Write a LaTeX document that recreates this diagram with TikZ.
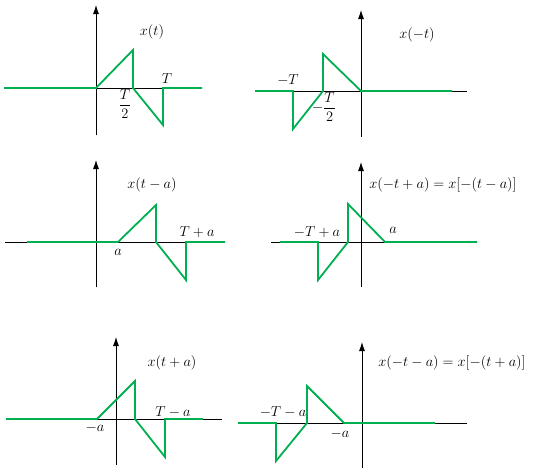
\documentclass[tikz,border=0pt]{standalone}
\usepackage{amsmath}
\usetikzlibrary{arrows.meta}
\definecolor{siggreen}{RGB}{0,176,80}

\begin{document}
\begin{tikzpicture}[x=1pt, y=-1pt,
axis/.style={line width=0.8pt},
yaxis/.style={line width=0.8pt, -{Latex[length=9pt,width=6pt]}},
sig/.style={draw=siggreen, line width=1.8pt},
lbl/.style={font=\fontsize{14}{16}\selectfont, inner sep=0pt}
]
\useasboundingbox (0,0) rectangle (537,472);

% x(t)
\draw[axis] (4,88) -- (202,88);
\draw[yaxis] (96,135) -- (96,5);
\draw[sig] (4,88) -- (96,88) -- (133,50) -- (133,88) -- (163,125) -- (163,88) -- (202,88);
\node[lbl] (f1) at (152,32) {$x(t)$};
\node[lbl] (f1T) at (167,79) {$T$};
\node[lbl] (f1h) at (125,104) {$\dfrac{T}{2}$};

% x(-t)
\draw[axis] (255,91) -- (467,91);
\draw[yaxis] (361,137) -- (361,10);
\draw[sig] (255,91) -- (293,91) -- (293,129) -- (323,91) -- (323,54) -- (361,91) -- (452,91);
\node[lbl] (f2) at (417,35) {$x(-t)$};
\node[lbl] (f2T) at (288,80) {$-T$};
\node[lbl] (f2h) at (324,107) {$-\dfrac{T}{2}$};

% x(t-a)
\draw[axis] (5,242) -- (225,242);
\draw[yaxis] (96,287) -- (96,160);
\draw[sig] (27,242) -- (118,242) -- (156,205) -- (156,242) -- (186,280) -- (186,242) -- (225,242);
\node[lbl] (f3) at (152,185) {$x(t-a)$};
\node[lbl] (f3T) at (197,232) {$T+a$};
\node[lbl] (f3a) at (118,252) {$a$};

% x(-t+a)
\draw[axis] (271,242) -- (477,242);
\draw[yaxis] (361,287) -- (361,162);
\draw[sig] (280,242) -- (318,242) -- (318,280) -- (348,242) -- (348,204) -- (385,242) -- (477,242);
\node[lbl] (f4) at (443,185) {$x(-t+a) = x[-(t-a)]$};
\node[lbl] (f4T) at (317,232) {$-T+a$};
\node[lbl] (f4a) at (393,230) {$a$};

% x(t+a)
\draw[axis] (6,419) -- (222,419);
\draw[yaxis] (116,465) -- (116,337);
\draw[sig] (6,419) -- (97,419) -- (135,381) -- (135,419) -- (165,457) -- (165,419) -- (203,419);
\node[lbl] (f5) at (172,363) {$x(t+a)$};
\node[lbl] (f5T) at (173,412) {$T-a$};
\node[lbl] (f5a) at (95,428) {$-a$};

% x(-t-a)
\draw[axis] (238,423) -- (467,423);
\draw[yaxis] (362,468) -- (362,342);
\draw[sig] (238,423) -- (276,423) -- (276,461) -- (307,423) -- (307,386) -- (344,423) -- (435,423);
\node[lbl] (f6) at (452,363) {$x(-t-a) = x[-(t+a)]$};
\node[lbl] (f6T) at (283,412) {$-T-a$};
\node[lbl] (f6a) at (340,434) {$-a$};
\end{tikzpicture}
\end{document}
